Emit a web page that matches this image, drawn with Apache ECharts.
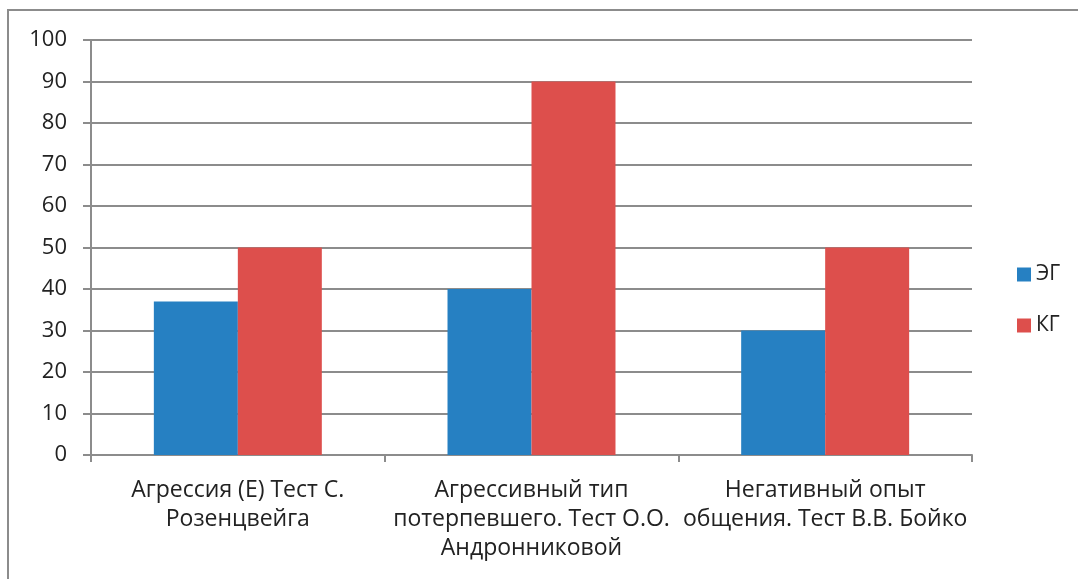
<!DOCTYPE html>
<html>
<head>
<meta charset="utf-8">
<script src="https://cdn.jsdelivr.net/npm/echarts@6/dist/echarts.min.js"></script>
<style>
  html, body { margin: 0; padding: 0; background: #fff; }
  #chart { width: 1078px; height: 579px; }
</style>
</head>
<body>
<div id="chart"></div>
<script>
// Categories (test names), wrapped as they appear under the axis
const categories = [
  'Агрессия (Е) Тест С.\nРозенцвейга',
  'Агрессивный тип\nпотерпевшего. Тест О.О.\nАндронниковой',
  'Негативный опыт\nобщения. Тест В.В. Бойко'
];
// Experimental group
const egValues = [37, 40, 30];
// Control group
const kgValues = [50, 90, 50];
const seriesNames = ['ЭГ', 'КГ'];
const colors = ['#2680C2', '#DD4F4C'];

const font = 'Open Sans, Noto Sans, Liberation Sans, sans-serif';
const gray = '#8c8c8c';
const textColor = '#222222';

const chart = echarts.init(document.getElementById('chart'), null, { renderer: 'canvas' });
chart.setOption({
  animation: false,
  backgroundColor: '#ffffff',
  graphic: [{
    type: 'rect',
    shape: { x: 8, y: 10, width: 1090, height: 600 },
    style: { fill: 'none', stroke: gray, lineWidth: 2 },
    silent: true
  }],
  grid: { left: 91, right: 106, top: 40, bottom: 124, containLabel: false },
  legend: {
    orient: 'vertical',
    left: 1012,
    top: 259,
    itemWidth: 14,
    itemHeight: 14,
    itemGap: 30,
    icon: 'rect',
    textStyle: { fontFamily: font, fontSize: 21, color: textColor },
    data: seriesNames
  },
  xAxis: {
    type: 'category',
    data: categories,
    axisLine: { lineStyle: { color: gray, width: 2 } },
    axisTick: { show: true, length: 7, alignWithLabel: false, lineStyle: { color: gray, width: 2 } },
    axisLabel: {
      interval: 0,
      margin: 21,
      fontFamily: font,
      fontSize: 23,
      lineHeight: 29,
      color: textColor
    }
  },
  yAxis: {
    type: 'value',
    min: 0,
    max: 100,
    interval: 10,
    axisLine: { show: true, lineStyle: { color: gray, width: 2 } },
    axisTick: { show: true, length: 8, lineStyle: { color: gray, width: 2 } },
    splitLine: { lineStyle: { color: gray, width: 2 } },
    axisLabel: { margin: 24, fontFamily: font, fontSize: 22, color: textColor }
  },
  series: [
    {
      name: seriesNames[0],
      type: 'bar',
      data: egValues,
      itemStyle: { color: colors[0] },
      barGap: '0%',
      barCategoryGap: '42.8%'
    },
    {
      name: seriesNames[1],
      type: 'bar',
      data: kgValues,
      itemStyle: { color: colors[1] },
      barGap: '0%',
      barCategoryGap: '42.8%'
    }
  ]
});
</script>
</body>
</html>
